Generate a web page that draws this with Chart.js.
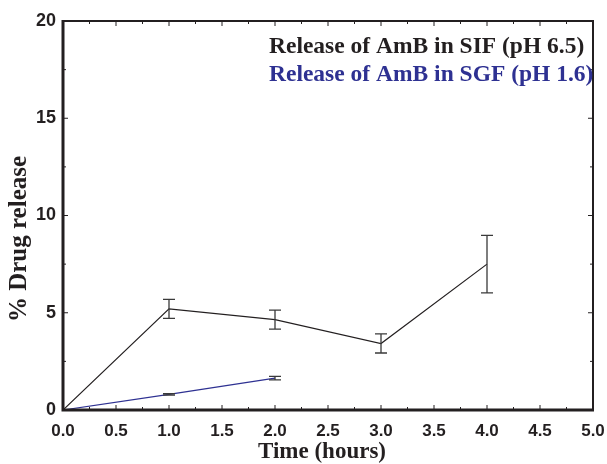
<!DOCTYPE html>
<html>
<head>
<meta charset="utf-8">
<script src="https://cdn.jsdelivr.net/npm/chart.js@4"></script>
<style>
  html, body { margin: 0; padding: 0; background: #fff; }
  #wrap { width: 607px; height: 464px; }
</style>
</head>
<body>
<div id="wrap"><canvas id="release"></canvas></div>
<script>
// release data, hours vs % drug released (mean and +/- error)
const sifHours = [0, 1, 2, 3, 4];
const sifRelease = [0, 5.2, 4.65, 3.42, 7.5];
const sifError = [0, 0.49, 0.49, 0.49, 1.48];

const sgfHours = [0, 1, 2];
const sgfRelease = [0, 0.8, 1.64];
const sgfError = [0, 0.04, 0.09];

const sifLabel = "Release of AmB in SIF (pH 6.5)";
const sgfLabel = "Release of AmB in SGF (pH 1.6)";
const xTitle = "Time (hours)";
const yTitle = "% Drug release";

const ink = "#231f20";
const blue = "#2e3192";
const serif = "'Liberation Serif', 'Times New Roman', serif";

const toPoints = (xs, ys) => xs.map((x, i) => ({ x: x, y: ys[i] }));

// frame, inward ticks, error bars, axis titles and in-plot legend text
const decorations = {
  id: "decorations",
  afterDatasetsDraw(chart) {
    const { ctx, chartArea: a, scales } = chart;
    const xs = scales.x, ys = scales.y;
    ctx.save();

    // error bars
    const bars = [
      [sifHours, sifRelease, sifError],
      [sgfHours, sgfRelease, sgfError],
    ];
    ctx.lineWidth = 1.3;
    ctx.strokeStyle = "#3a3a3a";
    bars.forEach(([hx, vals, errs]) => {
      hx.forEach((h, i) => {
        if (!errs[i]) return;
        const px = xs.getPixelForValue(h);
        const top = ys.getPixelForValue(vals[i] + errs[i]);
        const bot = ys.getPixelForValue(vals[i] - errs[i]);
        ctx.beginPath();
        ctx.moveTo(px, top); ctx.lineTo(px, bot);
        ctx.moveTo(px - 6, top); ctx.lineTo(px + 6, top);
        ctx.moveTo(px - 6, bot); ctx.lineTo(px + 6, bot);
        ctx.stroke();
      });
    });

    // ticks pointing into the plot on all four sides
    ctx.strokeStyle = ink;
    ctx.lineWidth = 1;
    ctx.beginPath();
    for (let v = 0; v <= 5.001; v += 0.25) {
      const px = xs.getPixelForValue(v);
      const len = Math.abs(v * 2 - Math.round(v * 2)) < 1e-6 ? 5 : 3;
      ctx.moveTo(px, a.bottom); ctx.lineTo(px, a.bottom - len);
      ctx.moveTo(px, a.top); ctx.lineTo(px, a.top + len);
    }
    for (let v = 0; v <= 20.001; v += 2.5) {
      const py = ys.getPixelForValue(v);
      const len = v % 5 === 0 ? 5 : 3;
      ctx.moveTo(a.left, py); ctx.lineTo(a.left + len, py);
      ctx.moveTo(a.right, py); ctx.lineTo(a.right - len, py);
    }
    ctx.stroke();

    // frame, heavier on the left and bottom
    ctx.lineWidth = 2;
    ctx.strokeRect(a.left, a.top, a.right - a.left, a.bottom - a.top);
    ctx.lineWidth = 3;
    ctx.beginPath();
    ctx.moveTo(a.left, a.top - 1);
    ctx.lineTo(a.left, a.bottom);
    ctx.lineTo(a.right + 1, a.bottom);
    ctx.stroke();

    // axis titles
    ctx.fillStyle = ink;
    ctx.font = "bold 23px " + serif;
    ctx.textAlign = "center";
    ctx.textBaseline = "alphabetic";
    ctx.fillText(xTitle, 322, 458);
    ctx.save();
    ctx.translate(26, 239);
    ctx.rotate(-Math.PI / 2);
    ctx.font = "bold 25px " + serif;
    ctx.fillText(yTitle, 0, 0);
    ctx.restore();

    // legend text
    ctx.font = "bold 23.5px " + serif;
    ctx.textAlign = "left";
    ctx.fillStyle = ink;
    ctx.fillText(chart.data.datasets[0].label, 269, 53);
    ctx.fillStyle = blue;
    ctx.fillText(chart.data.datasets[1].label, 269, 81);
    ctx.restore();
  },
};

new Chart(document.getElementById("release"), {
  type: "line",
  data: {
    datasets: [
      {
        label: sifLabel,
        data: toPoints(sifHours, sifRelease),
        borderColor: ink,
        borderWidth: 1.2,
        pointRadius: 0,
        tension: 0,
      },
      {
        label: sgfLabel,
        data: toPoints(sgfHours, sgfRelease),
        borderColor: blue,
        borderWidth: 1.2,
        pointRadius: 0,
        tension: 0,
      },
    ],
  },
  options: {
    responsive: true,
    maintainAspectRatio: false,
    animation: false,
    layout: { padding: { top: 21, right: 14, left: 0, bottom: 0 } },
    plugins: {
      legend: { display: false },
      tooltip: { enabled: false },
    },
    scales: {
      x: {
        type: "linear",
        min: 0,
        max: 5,
        grid: { display: false, drawTicks: false },
        border: { display: false },
        ticks: {
          stepSize: 0.5,
          padding: 11,
          color: ink,
          maxRotation: 0,
          font: { family: "'Liberation Sans', Arial, sans-serif", size: 17, weight: "bold" },
          callback: (v) => Number(v).toFixed(1),
        },
        afterFit: (scale) => {
          scale.height = 54;
          scale.paddingLeft = 0;
          scale.paddingRight = 0;
        },
      },
      y: {
        min: 0,
        max: 20,
        grid: { display: false, drawTicks: false },
        border: { display: false },
        ticks: {
          stepSize: 5,
          padding: 7,
          color: ink,
          font: { family: "'Liberation Sans', Arial, sans-serif", size: 18, weight: "bold" },
        },
        afterFit: (scale) => {
          scale.width = 63;
          scale.paddingTop = 0;
          scale.paddingBottom = 0;
        },
      },
    },
  },
  plugins: [decorations],
});
</script>
</body>
</html>
